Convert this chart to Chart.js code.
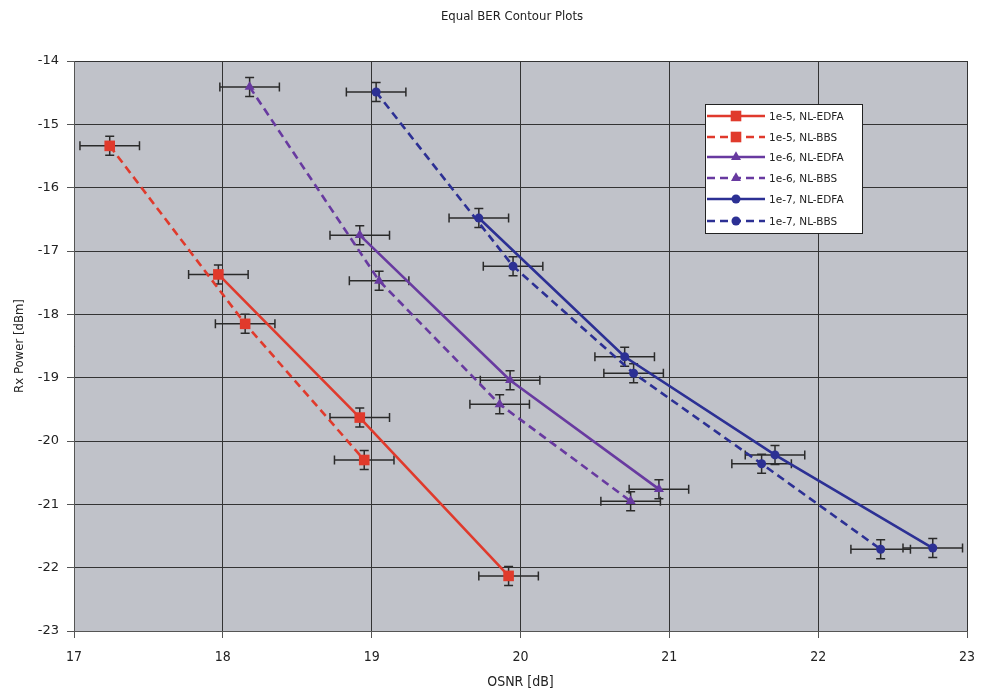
<!DOCTYPE html>
<html>
<head>
<meta charset="utf-8">
<script src="https://cdn.jsdelivr.net/npm/chart.js@4.4.1/dist/chart.umd.min.js"></script>
<style>
  html, body { margin: 0; padding: 0; background: #ffffff; }
  #wrap { width: 984px; height: 692px; position: relative; }
</style>
</head>
<body>
<div id="wrap"><canvas id="c" width="984" height="692"></canvas></div>
<script>
// ---- Data ----
const chartTitle = 'Equal BER Contour Plots';
const xAxisTitle = 'OSNR [dB]';
const yAxisTitle = 'Rx Power [dBm]';
const seriesNames = ['1e-5, NL-EDFA', '1e-5, NL-BBS', '1e-6, NL-EDFA', '1e-6, NL-BBS', '1e-7, NL-EDFA', '1e-7, NL-BBS'];

const osnr_1e5_edfa = [17.97, 18.92, 19.92];
const rx_1e5_edfa   = [-17.37, -19.63, -22.13];
const osnr_1e5_bbs  = [17.24, 18.15, 18.95];
const rx_1e5_bbs    = [-15.34, -18.15, -20.30];
const osnr_1e6_edfa = [18.92, 19.93, 20.93];
const rx_1e6_edfa   = [-16.75, -19.04, -20.76];
const osnr_1e6_bbs  = [18.18, 19.05, 19.86, 20.74];
const rx_1e6_bbs    = [-14.41, -17.47, -19.42, -20.95];
const osnr_1e7_edfa = [19.72, 20.70, 21.71, 22.77];
const rx_1e7_edfa   = [-16.48, -18.67, -20.22, -21.69];
const osnr_1e7_bbs  = [19.03, 19.95, 20.76, 21.62, 22.42];
const rx_1e7_bbs    = [-14.49, -17.24, -18.93, -20.36, -21.71];

const osnrError = 0.2;   // +/- dB (horizontal error bars)
const rxError = 0.15;    // +/- dBm (vertical error bars)

const xTicks = [17, 18, 19, 20, 21, 22, 23];
const yTicks = [-23, -22, -21, -20, -19, -18, -17, -16, -15, -14];

// ---- Styles ----
const RED = 'rgb(224,58,44)';
const PURPLE = 'rgb(104,58,160)';
const BLUE = 'rgb(44,48,148)';
const DASH = [8, 5];

function pts(xs, ys) { return xs.map((x, i) => ({x: x, y: ys[i]})); }

function makeDs(i, xs, ys, color, dashed, style, radius) {
  return {
    label: seriesNames[i],
    data: pts(xs, ys),
    showLine: true,
    borderColor: color,
    backgroundColor: color,
    borderWidth: 2.6,
    borderDash: dashed ? DASH : [],
    pointStyle: style,
    pointRadius: radius,
    pointHoverRadius: radius,
    pointBorderWidth: 0,
    pointBackgroundColor: color,
    tension: 0,
    fill: false
  };
}

const datasets = [
  makeDs(0, osnr_1e5_edfa, rx_1e5_edfa, RED, false, 'rect', 7.5),
  makeDs(1, osnr_1e5_bbs, rx_1e5_bbs, RED, true, 'rect', 7.5),
  makeDs(2, osnr_1e6_edfa, rx_1e6_edfa, PURPLE, false, 'triangle', 5.8),
  makeDs(3, osnr_1e6_bbs, rx_1e6_bbs, PURPLE, true, 'triangle', 5.8),
  makeDs(4, osnr_1e7_edfa, rx_1e7_edfa, BLUE, false, 'circle', 4.5),
  makeDs(5, osnr_1e7_bbs, rx_1e7_bbs, BLUE, true, 'circle', 4.5)
];

const bgPlugin = {
  id: 'bg',
  beforeDraw(chart) {
    const {ctx, chartArea: a} = chart;
    ctx.save();
    ctx.fillStyle = '#ffffff';
    ctx.fillRect(0, 0, chart.width, chart.height);
    ctx.fillStyle = 'rgb(192,194,201)';
    ctx.fillRect(a.left, a.top, a.right - a.left, a.bottom - a.top);
    ctx.restore();
  }
};

const errPlugin = {
  id: 'errbars',
  beforeDatasetsDraw(chart) {
    const ctx = chart.ctx;
    const xs = chart.scales.x, ys = chart.scales.y;
    ctx.save();
    ctx.strokeStyle = '#2a2a2a';
    ctx.lineWidth = 1.5;
    const cap = 4.5;
    chart.data.datasets.forEach(ds => {
      ds.data.forEach(p => {
        const cx = xs.getPixelForValue(p.x), cy = ys.getPixelForValue(p.y);
        const xl = xs.getPixelForValue(p.x - osnrError), xr = xs.getPixelForValue(p.x + osnrError);
        const yt = ys.getPixelForValue(p.y + rxError), yb = ys.getPixelForValue(p.y - rxError);
        ctx.beginPath();
        ctx.moveTo(xl, cy); ctx.lineTo(xr, cy);
        ctx.moveTo(xl, cy - cap); ctx.lineTo(xl, cy + cap);
        ctx.moveTo(xr, cy - cap); ctx.lineTo(xr, cy + cap);
        ctx.moveTo(cx, yt); ctx.lineTo(cx, yb);
        ctx.moveTo(cx - cap, yt); ctx.lineTo(cx + cap, yt);
        ctx.moveTo(cx - cap, yb); ctx.lineTo(cx + cap, yb);
        ctx.stroke();
      });
    });
    ctx.restore();
  }
};

function drawMarker(ctx, style, x, y, r, color) {
  ctx.fillStyle = color;
  ctx.beginPath();
  if (style === 'rect') {
    const s = Math.SQRT1_2 * r;
    ctx.rect(x - s, y - s, 2 * s, 2 * s);
  } else if (style === 'triangle') {
    for (let k = 0; k < 3; k++) {
      const ang = k * 2 * Math.PI / 3;
      const px = x + Math.sin(ang) * r, py = y - Math.cos(ang) * r;
      if (k === 0) ctx.moveTo(px, py); else ctx.lineTo(px, py);
    }
    ctx.closePath();
  } else {
    ctx.arc(x, y, r, 0, Math.PI * 2);
  }
  ctx.fill();
}

const overlayPlugin = {
  id: 'overlay',
  afterDraw(chart) {
    const ctx = chart.ctx;
    ctx.save();
    // title
    ctx.fillStyle = '#222';
    ctx.font = '13px "DejaVu Sans Condensed", "DejaVu Sans", sans-serif';
    ctx.textAlign = 'center';
    ctx.textBaseline = 'middle';
    ctx.fillText(chartTitle, 512, 17);
    // legend
    const bx = 705.5, by = 104.5, bw = 157, bh = 129;
    ctx.fillStyle = '#ffffff';
    ctx.fillRect(bx, by, bw, bh);
    ctx.strokeStyle = '#222';
    ctx.lineWidth = 1;
    ctx.strokeRect(bx, by, bw, bh);
    const rowY = [116, 137, 157, 178, 199, 221];
    chart.data.datasets.forEach((ds, i) => {
      const y = rowY[i];
      ctx.strokeStyle = ds.borderColor;
      ctx.lineWidth = 2.6;
      ctx.setLineDash(ds.borderDash || []);
      ctx.beginPath();
      ctx.moveTo(707, y); ctx.lineTo(765, y);
      ctx.stroke();
      ctx.setLineDash([]);
      drawMarker(ctx, ds.pointStyle, 736, y, ds.pointRadius, ds.borderColor);
      ctx.fillStyle = '#222';
      ctx.font = '10.5px "DejaVu Sans", sans-serif';
      ctx.textAlign = 'left';
      ctx.textBaseline = 'middle';
      ctx.fillText(ds.label, 769, y + 1);
    });
    ctx.restore();
  }
};

new Chart(document.getElementById('c'), {
  type: 'scatter',
  data: { datasets: datasets },
  plugins: [bgPlugin, errPlugin, overlayPlugin],
  options: {
    responsive: false,
    devicePixelRatio: 1,
    animation: false,
    events: [],
    layout: { padding: { top: 61, right: 17, left: 0, bottom: 0 } },
    plugins: {
      legend: { display: false },
      title: { display: false },
      tooltip: { enabled: false }
    },
    scales: {
      x: {
        type: 'linear',
        min: 17, max: 23,
        afterBuildTicks(scale) { scale.ticks = xTicks.map(v => ({value: v})); },
        afterFit(scale) { scale.height = 61; scale.paddingLeft = 0; scale.paddingRight = 0; },
        ticks: {
          color: '#222',
          padding: 11,
          font: { family: '"DejaVu Sans Condensed", "DejaVu Sans", sans-serif', size: 14 }
        },
        grid: { color: '#333', lineWidth: 1, tickLength: 7, tickColor: '#555' },
        border: { display: true, color: '#555', width: 1 },
        title: {
          display: true, text: xAxisTitle, color: '#222',
          font: { family: '"DejaVu Sans Condensed", "DejaVu Sans", sans-serif', size: 14 },
          padding: { top: 0, bottom: 1 }
        }
      },
      y: {
        type: 'linear',
        min: -23, max: -14,
        afterBuildTicks(scale) { scale.ticks = yTicks.map(v => ({value: v})); },
        afterFit(scale) { scale.width = 74; scale.paddingTop = 0; scale.paddingBottom = 0; },
        ticks: {
          color: '#222',
          padding: 8,
          font: { family: '"DejaVu Sans", sans-serif', size: 13 }
        },
        grid: { color: '#333', lineWidth: 1, tickLength: 7, tickColor: '#555' },
        border: { display: true, color: '#555', width: 1 },
        title: {
          display: true, text: yAxisTitle, color: '#222',
          font: { family: '"DejaVu Sans Condensed", "DejaVu Sans", sans-serif', size: 13 },
          padding: { top: 12, bottom: 0 }
        }
      }
    }
  }
});
</script>
</body>
</html>
